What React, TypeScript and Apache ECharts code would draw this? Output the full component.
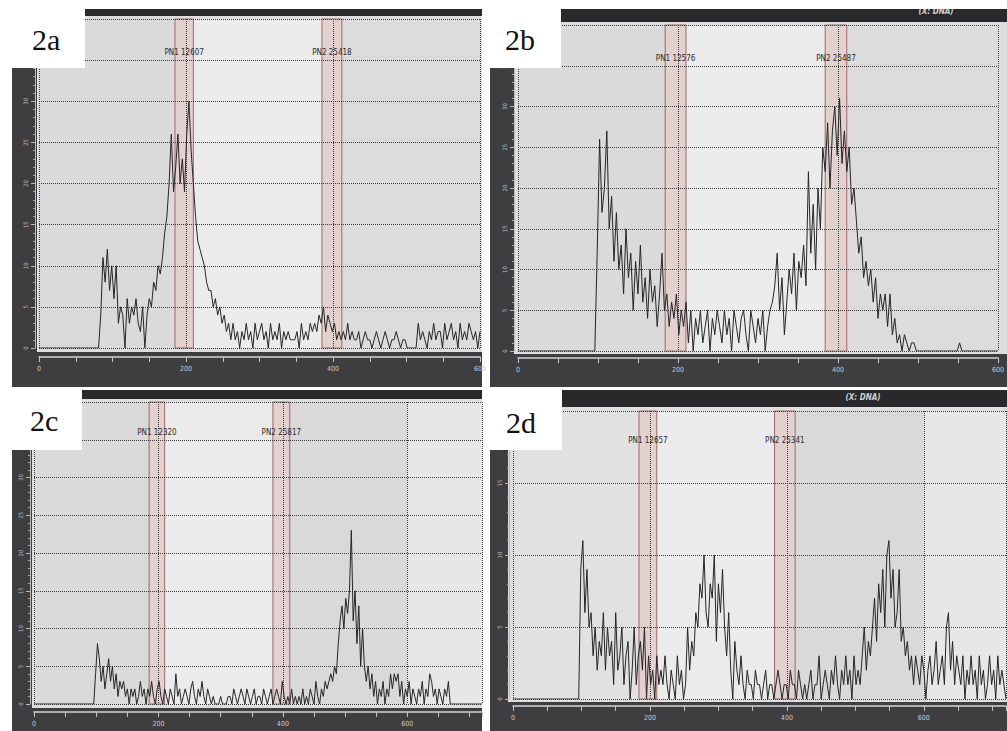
import { useEffect, useRef } from "react";
import * as echarts from "echarts";

// Channel step of the histograms (DNA channel units)
const STEP = 3;

// ---- 2a ----
const startA = 84;
const countsA = [
  4, 11, 8, 12, 7, 10, 6, 10, 3, 5,
  4, 0, 6, 3, 5, 4, 6, 3, 2, 5,
  0, 4, 6, 5, 8, 7, 10, 9, 11, 14,
  16, 20, 26, 19, 22, 26, 20, 23, 19, 26,
  30, 24, 20, 16, 13, 12, 11, 10, 8, 7,
  7, 5, 6, 4, 5, 3, 4, 2, 3, 1,
  3, 1, 2, 0, 2, 1, 3, 1, 2, 0,
  3, 1, 2, 3, 1, 2, 0, 3, 1, 2,
  1, 3, 0, 2, 1, 2, 1, 1, 1, 2,
  0, 3, 1, 2, 1, 3, 2, 3, 2, 4,
  3, 5, 2, 4, 3, 2, 3, 1, 2, 1,
  2, 1, 3, 1, 2, 1, 1, 2, 0, 1,
  2, 1, 1, 0, 1, 2, 1, 0, 1, 2,
  1, 0, 1, 1, 2, 1, 0, 1, 1, 0,
  0, 0, 0, 0, 3, 1, 2, 1, 0, 2,
  1, 3, 1, 2, 2, 0, 3, 1, 2, 3,
  1, 2, 0, 3, 1, 2, 1, 3, 2, 1,
  2, 0, 2,
];

// ---- 2b ----
const startB = 96;
const countsB = [
  0, 12, 26, 17, 20, 27, 15, 19, 11, 17,
  10, 13, 7, 15, 9, 12, 5, 11, 7, 13,
  6, 9, 4, 10, 6, 8, 3, 7, 12, 5,
  7, 3, 6, 4, 7, 2, 5, 3, 6, 1,
  5, 0, 4, 2, 5, 1, 3, 5, 0, 4,
  2, 5, 3, 1, 5, 2, 4, 0, 5, 3,
  1, 4, 5, 2, 0, 5, 3, 1, 4, 2,
  5, 0, 3, 5, 6, 8, 12, 5, 9, 2,
  6, 10, 7, 12, 5, 11, 9, 13, 8, 22,
  12, 18, 10, 20, 15, 25, 22, 28, 20, 27,
  30, 24, 31, 23, 27, 22, 25, 18, 20, 16,
  12, 14, 9, 11, 8, 10, 6, 9, 4, 7,
  5, 7, 3, 7, 2, 4, 1, 2, 0, 2,
  1, 0, 1, 1, 0, 0, 0, 0, 0, 0,
  0, 0, 0, 0, 0, 0, 0, 0, 0, 0,
  0, 0, 1, 0, 0, 0, 0, 0, 0, 0,
  0, 0, 0, 0, 0, 0, 0, 0, 0,
];

// ---- 2c ----
const startC = 99;
const countsC = [
  4, 8, 6, 3, 5, 2, 4, 6, 3, 5,
  2, 4, 1, 3, 2, 3, 1, 2, 0, 2,
  1, 2, 0, 1, 3, 1, 2, 0, 2, 1,
  3, 1, 0, 2, 3, 1, 0, 2, 1, 0,
  2, 1, 0, 4, 1, 2, 0, 1, 2, 1,
  0, 2, 3, 1, 0, 2, 1, 3, 1, 0,
  2, 1, 0, 1, 0, 0, 0, 1, 0, 0,
  0, 1, 1, 0, 2, 1, 0, 1, 2, 1,
  0, 2, 1, 0, 1, 2, 0, 1, 1, 0,
  2, 1, 0, 1, 2, 0, 1, 2, 1, 0,
  3, 1, 0, 1, 0, 2, 0, 1, 0, 1,
  0, 2, 0, 1, 0, 2, 1, 0, 3, 1,
  0, 2, 1, 3, 2, 3, 4, 3, 5, 4,
  8, 11, 13, 10, 14, 12, 15, 23, 11, 15,
  8, 13, 5, 10, 5, 3, 5, 2, 4, 1,
  3, 0, 2, 1, 3, 0, 2, 1, 4, 2,
  4, 3, 4, 1, 3, 0, 2, 1, 3, 0,
  2, 1, 0, 2, 1, 3, 0, 2, 1, 4,
  3, 1, 2, 0, 2, 1, 0, 2, 1, 3,
  0, 0, 0, 0, 0, 0, 0, 0, 0, 0,
  0, 0, 0, 0, 0, 0, 0, 0,
];

// ---- 2d ----
const startD = 99;
const countsD = [
  9, 11, 6, 9, 5, 6, 3, 5, 2, 4,
  3, 6, 2, 5, 3, 4, 1, 6, 2, 3,
  5, 1, 3, 4, 0, 2, 5, 1, 3, 4,
  2, 5, 0, 3, 1, 2, 0, 3, 1, 2,
  1, 3, 1, 0, 2, 1, 0, 3, 1, 2,
  0, 1, 5, 2, 4, 3, 6, 5, 8, 7,
  10, 6, 5, 8, 7, 10, 4, 8, 6, 9,
  5, 3, 6, 2, 0, 4, 2, 1, 3, 1,
  0, 2, 1, 1, 0, 2, 1, 1, 0, 1,
  2, 0, 1, 1, 0, 1, 2, 1, 0, 1,
  1, 0, 2, 1, 1, 0, 2, 1, 0, 1,
  0, 1, 2, 0, 1, 1, 3, 0, 1, 2,
  1, 0, 2, 1, 3, 1, 0, 2, 1, 3,
  1, 2, 0, 3, 1, 2, 1, 3, 5, 2,
  4, 3, 5, 7, 4, 8, 6, 9, 5, 10,
  11, 7, 9, 5, 6, 9, 4, 5, 3, 4,
  2, 3, 1, 3, 2, 1, 3, 2, 0, 2,
  3, 1, 2, 4, 1, 2, 3, 1, 5, 6,
  2, 4, 1, 3, 2, 1, 3, 0, 2, 1,
  3, 1, 2, 0, 3, 1, 2, 0, 1, 3,
  1, 2, 0, 3, 1, 2, 1, 0,
];

// Gates (PN regions) in channel units, and their labels
const gatesA = [[185, 210], [385, 412]];
const gatesB = [[184, 210], [384, 411]];
const gatesC = [[185, 210], [384, 411]];
const gatesD = [[184, 210], [382, 412]];
const labelsA = ["PN1 12607", "PN2 25418"];
const labelsB = ["PN1 12576", "PN2 25487"];
const labelsC = ["PN1 12320", "PN2 25817"];
const labelsD = ["PN1 12657", "PN2 25341"];
const panelNames = ["2a", "2b", "2c", "2d"];
const xMaxes = [600, 600, 720, 720];
const yMaxes = [40, 40, 40, 20];

const SMALL_FONT = "'DejaVu Sans Condensed', 'Liberation Sans Narrow', 'Liberation Sans', sans-serif";
const DARK = "#3e3e41";
const BAR = "#29292b";

function toPoints(start: number, vals: number[]) {
  // empty channels before the first counted one
  const pts: number[][] = [[0, 0], [start - STEP, 0]];
  vals.forEach((v, i) => pts.push([start + i * STEP, v]));
  return pts;
}

export default function App() {
  const ref = useRef<HTMLDivElement>(null);

  useEffect(() => {
    if (!ref.current) return;
    const chart = echarts.init(ref.current, null, { renderer: "svg" });

    const grids = [
      { left: 39, top: 19, width: 441, height: 329 },
      { left: 518, top: 25, width: 489, height: 326 },
      { left: 34, top: 402, width: 448, height: 302 },
      { left: 513, top: 411, width: 493, height: 288 },
    ];
    const xOffsets = [9, 7, 8, 7];
    const labelDist = [30, 30, 27, 26];
    const datasets = [
      toPoints(startA, countsA),
      toPoints(startB, countsB),
      toPoints(startC, countsC),
      toPoints(startD, countsD),
    ];
    const gates = [gatesA, gatesB, gatesC, gatesD];
    const gateLabels = [labelsA, labelsB, labelsC, labelsD];

    const xAxes: any[] = [];
    const yAxes: any[] = [];
    const series: any[] = [];

    grids.forEach((g, i) => {
      const xMax = xMaxes[i];
      xAxes.push({
        gridIndex: i,
        type: "value",
        min: 0,
        max: xMax,
        interval: 200,
        offset: xOffsets[i],
        axisLine: { show: true, onZero: false, lineStyle: { color: "#d4d4d4", width: 1.5 } },
        axisTick: { show: true, length: 5, lineStyle: { color: "#c4c4c4" } },
        minorTick: { show: true, splitNumber: 4, length: 5, lineStyle: { color: "#c4c4c4" } },
        axisLabel: {
          color: "#c8c8c8",
          fontSize: 7,
          margin: 8,
          fontFamily: SMALL_FONT,
          showMaxLabel: xMax === 600,
        },
        splitLine: { show: true, lineStyle: { type: "dotted", color: "#3c3c3c", width: 1 } },
        minorSplitLine: { show: false },
      });
      yAxes.push({
        gridIndex: i,
        type: "value",
        min: 0,
        max: yMaxes[i],
        interval: 5,
        offset: 4,
        axisLine: { show: true, onZero: false, lineStyle: { color: "#bcbcbc" } },
        axisTick: { show: true, length: 4, lineStyle: { color: "#bcbcbc" } },
        minorTick: { show: true, splitNumber: 5, length: 2, lineStyle: { color: "#a8a8a8" } },
        axisLabel: { rotate: 90, fontSize: 6, color: "#bcbcbc", margin: 7, fontFamily: SMALL_FONT },
        splitLine: { show: true, lineStyle: { type: "dotted", color: "#3c3c3c", width: 1 } },
      });

      const [pn1, pn2] = gates[i];
      const zoneDark = "#dadada";
      const zoneLight = "#ebebeb";
      const zones: any[] = [
        [{ xAxis: 0, itemStyle: { color: i === 3 ? "#e1e1e1" : zoneDark } }, { xAxis: pn1[0] }],
        [{ xAxis: pn1[1], itemStyle: { color: zoneLight } }, { xAxis: pn2[0] }],
      ];
      if (xMax > 600) {
        zones.push([{ xAxis: pn2[1], itemStyle: { color: "#d9d9d9" } }, { xAxis: 600 }]);
        zones.push([{ xAxis: 600, itemStyle: { color: "#e7e7e7" } }, { xAxis: xMax }]);
      } else {
        zones.push([{ xAxis: pn2[1], itemStyle: { color: "#dcdcdc" } }, { xAxis: xMax }]);
      }
      gates[i].forEach((gt, k) => {
        zones.push([
          {
            xAxis: gt[0],
            itemStyle: {
              color: "rgba(230,200,198,0.6)",
              borderColor: "#9a6a66",
              borderWidth: 1,
              decal: {
                symbol: "rect",
                symbolSize: 1,
                dashArrayX: [1, 3],
                dashArrayY: [1, 3],
                color: "rgba(150,110,110,0.45)",
              },
            },
            label: {
              show: true,
              position: "insideTop",
              distance: labelDist[i],
              formatter: gateLabels[i][k],
              color: "#2a2a2a",
              fontSize: 8,
              fontFamily: SMALL_FONT,
            },
          },
          { xAxis: gt[1] },
        ]);
      });

      series.push({
        type: "line",
        xAxisIndex: i,
        yAxisIndex: i,
        data: [[0, 0]],
        z: -5,
        silent: true,
        symbol: "none",
        lineStyle: { width: 0, opacity: 0 },
        markArea: { silent: true, z: -5, data: zones },
      });
      series.push({
        type: "line",
        xAxisIndex: i,
        yAxisIndex: i,
        data: datasets[i],
        symbol: "none",
        z: 3,
        lineStyle: { color: "#262626", width: 1 },
      });
    });

    const el: any[] = [];
    // frames
    const frames = [
      { x: 12, y: 9, w: 470, h: 378, bar: [85, 9, 397, 7], plot: [37, 16, 445, 336] },
      { x: 490, y: 9, w: 517, h: 378, bar: [561, 9, 446, 13], plot: [514, 22, 493, 332] },
      { x: 12, y: 390, w: 470, h: 341, bar: [82, 390, 400, 9], plot: [32, 399, 450, 309] },
      { x: 490, y: 390, w: 517, h: 341, bar: [562, 390, 445, 17], plot: [508, 407, 499, 295] },
    ];
    frames.forEach((f) => {
      el.push({ type: "rect", z: -20, shape: { x: f.x, y: f.y, width: f.w, height: f.h }, style: { fill: DARK } });
      el.push({ type: "rect", z: -19, shape: { x: f.bar[0], y: f.bar[1], width: f.bar[2], height: f.bar[3] }, style: { fill: BAR } });
      el.push({ type: "rect", z: -18, shape: { x: f.plot[0], y: f.plot[1], width: f.plot[2], height: f.plot[3] }, style: { fill: "#dedede" } });
    });
    // "(X: DNA)" captions
    el.push({
      type: "text", z: 50, x: 936, y: 11,
      style: { text: "(X: DNA)", fill: "#d0d0d0", font: "italic bold 8px " + SMALL_FONT, textAlign: "center", textVerticalAlign: "middle", verticalAlign: "middle" },
    });
    el.push({ type: "rect", z: 51, shape: { x: 490, y: 0, width: 517, height: 9 }, style: { fill: "#ffffff" } });
    el.push({
      type: "text", z: 50, x: 863, y: 397,
      style: { text: "(X: DNA)", fill: "#d0d0d0", font: "italic bold 8px " + SMALL_FONT, textAlign: "center", textVerticalAlign: "middle", verticalAlign: "middle" },
    });
    // panel tag boxes
    const boxes = [
      { x: 12, y: 9, w: 73, h: 59, tx: 32, ty: 39 },
      { x: 490, y: 9, w: 71, h: 59, tx: 505, ty: 39 },
      { x: 12, y: 390, w: 70, h: 60, tx: 30, ty: 420 },
      { x: 490, y: 390, w: 72, h: 60, tx: 506, ty: 422 },
    ];
    boxes.forEach((b, i) => {
      el.push({ type: "rect", z: 100, shape: { x: b.x, y: b.y, width: b.w, height: b.h }, style: { fill: "#ffffff" } });
      el.push({
        type: "text", z: 101, x: b.tx, y: b.ty,
        style: { text: panelNames[i], fill: "#111111", font: "30px 'Liberation Serif', 'DejaVu Serif', serif", textAlign: "left", textVerticalAlign: "middle", verticalAlign: "middle" },
      });
    });

    chart.setOption({
      animation: false,
      backgroundColor: "#ffffff",
      grid: grids.map((g) => ({ ...g, containLabel: false })),
      xAxis: xAxes,
      yAxis: yAxes,
      series,
      graphic: { elements: el },
    });

    return () => chart.dispose();
  }, []);

  return <div ref={ref} style={{ position: "absolute", left: 0, top: 0, width: 1007, height: 731 }} />;
}
